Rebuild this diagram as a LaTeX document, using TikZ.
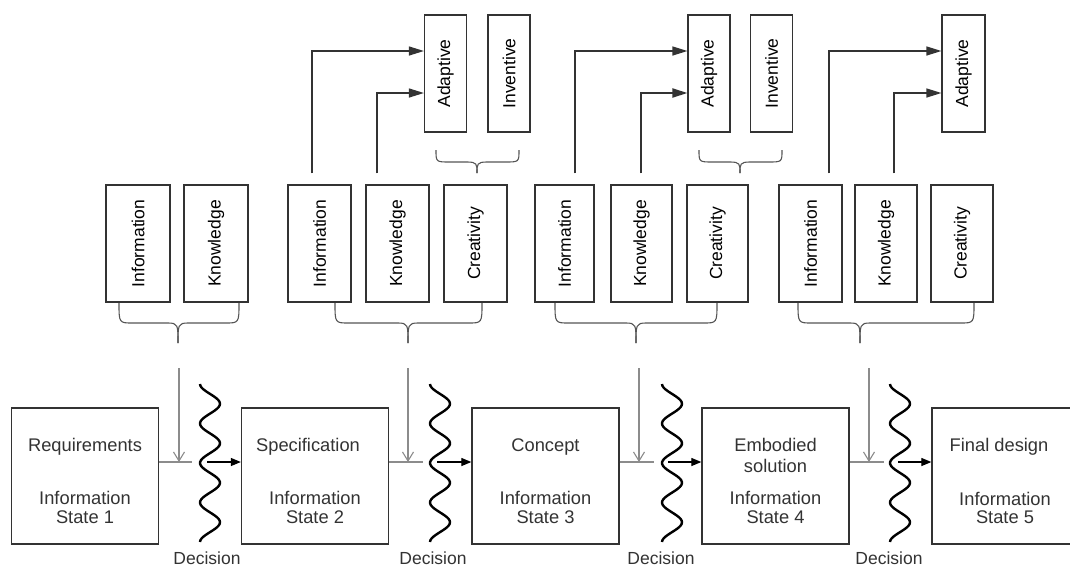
\documentclass[tikz,border=0pt]{standalone}
\usepackage{fontspec}
\usepackage{graphicx}
\setmainfont{Liberation Sans}
\usetikzlibrary{arrows.meta}
\definecolor{boxc}{HTML}{333333}
\definecolor{bracec}{HTML}{555555}
\definecolor{greyc}{HTML}{8C8C8C}
\newcommand{\mybrace}[6]{% x1 x2 xt ytop ymid ytip
  \draw[bracel] (#1,#4) .. controls (#1,#5) and (#1,#5) .. (#1+14,#5) -- (#3-10,#5)
    .. controls (#3,#5) and (#3,#5+2) .. (#3,#6);
  \draw[bracel] (#2,#4) .. controls (#2,#5) and (#2,#5) .. (#2-14,#5) -- (#3+10,#5)
    .. controls (#3,#5) and (#3,#5+2) .. (#3,#6);}
\newcommand{\mywave}[1]{%
  \draw[wavel] plot[smooth, samples=90, domain=0:158] ({#1-10*cos(\x*9.1139)},{384+\x});}
\begin{document}
\begin{tikzpicture}[x=1pt,y=-1pt,
  font=\fontsize{17.5}{19}\selectfont,
  statebox/.style={draw=boxc, line width=1.3pt, minimum width=147pt, minimum height=136pt, inner sep=0pt},
  resbox/.style={draw=boxc, line width=1.2pt, minimum width=63pt, minimum height=117pt, inner sep=0pt},
  topbox/.style={draw=boxc, line width=1.2pt, minimum width=42pt, minimum height=117pt, inner sep=0pt},
  lbl/.style={anchor=base, inner sep=0pt, text=boxc},
  slbl/.style={lbl, font=\fontsize{18.3}{19}\selectfont},
  bracel/.style={draw=bracec, line width=1.1pt},
  wavel/.style={draw=black, line width=2.4pt},
  greyline/.style={draw=greyc, line width=1.3pt},
  downarr/.style={draw=greyc, line width=1.1pt, -{Straight Barb[length=9pt,width=11pt]}},
  flowarr/.style={draw=black, line width=1.2pt, -{Triangle[length=10pt,width=8pt]}},
  toparr/.style={draw=boxc, line width=1.3pt, -{Triangle[length=15pt,width=9pt]}},
  ]
\useasboundingbox (0,0) rectangle (1070,566);
\fill[white] (0,0) rectangle (1070,566);

% ---------- state boxes ----------
\node[statebox] (s1) at (85,476) {};
\node[statebox] (s2) at (315,476) {};
\node[statebox] (s3) at (545.5,476) {};
\node[statebox] (s4) at (775.5,476) {};
\node[statebox, minimum width=146pt] (s5) at (1005,476) {};

\node[slbl] (s1a) at ([yshift=25pt]s1.center) {Requirements};
\node[slbl] (s1b) at ([yshift=-28pt]s1.center) {Information};
\node[slbl] (s1c) at ([yshift=-47pt]s1.center) {State 1};
\node[slbl] (s2a) at ([xshift=-7pt,yshift=25pt]s2.center) {Specification};
\node[slbl] (s2b) at ([yshift=-28pt]s2.center) {Information};
\node[slbl] (s2c) at ([yshift=-47pt]s2.center) {State 2};
\node[slbl] (s3a) at ([yshift=25pt]s3.center) {Concept};
\node[slbl] (s3b) at ([yshift=-28pt]s3.center) {Information};
\node[slbl] (s3c) at ([yshift=-47pt]s3.center) {State 3};
\node[slbl] (s4a) at ([yshift=25pt]s4.center) {Embodied};
\node[slbl] (s4d) at ([yshift=4pt]s4.center) {solution};
\node[slbl] (s4b) at ([yshift=-28pt]s4.center) {Information};
\node[slbl] (s4c) at ([yshift=-47pt]s4.center) {State 4};
\node[slbl] (s5a) at ([xshift=-6pt,yshift=25pt]s5.center) {Final design};
\node[slbl] (s5b) at ([yshift=-29pt]s5.center) {Information};
\node[slbl] (s5c) at ([yshift=-47pt]s5.center) {State 5};

% ---------- middle row ----------
\node[resbox, minimum width=64pt] (i1) at (138,243.5) {\rotatebox{90}{Information}};
\node[resbox, minimum width=64pt] (k1) at (216,243.5) {\rotatebox{90}{Knowledge}};
\node[resbox] (i2) at (319.5,243.5) {\rotatebox{90}{Information}};
\node[resbox] (k2) at (397.5,243.5) {\rotatebox{90}{Knowledge}};
\node[resbox] (c2) at (475.5,243.5) {\rotatebox{90}{Creativity}};
\node[resbox, minimum width=59pt] (i3) at (564.5,243.5) {\rotatebox{90}{Information}};
\node[resbox, minimum width=61pt] (k3) at (641.5,243.5) {\rotatebox{90}{Knowledge}};
\node[resbox, minimum width=61pt] (c3) at (717.5,243.5) {\rotatebox{90}{Creativity}};
\node[resbox] (i4) at (810.5,243.5) {\rotatebox{90}{Information}};
\node[resbox, minimum width=62pt] (k4) at (886,243.5) {\rotatebox{90}{Knowledge}};
\node[resbox, minimum width=62pt] (c4) at (962,243.5) {\rotatebox{90}{Creativity}};

% ---------- top row ----------
\node[topbox] (a2) at (445.5,73.5) {\rotatebox{90}{Adaptive}};
\node[topbox] (v2) at (509,73.5) {\rotatebox{90}{Inventive}};
\node[topbox] (a3) at (709,73.5) {\rotatebox{90}{Adaptive}};
\node[topbox] (v3) at (771.5,73.5) {\rotatebox{90}{Inventive}};
\node[topbox, minimum width=43pt] (a4) at (963.5,73.5) {\rotatebox{90}{Adaptive}};

% ---------- top arrows ----------
\draw[toparr] ([xshift=-7.5pt,yshift=11pt]i2.north) |- ([yshift=22.5pt]a2.west);
\draw[toparr] ([xshift=-20.5pt,yshift=11pt]k2.north) |- ([yshift=-19.5pt]a2.west);
\draw[toparr] ([xshift=10.5pt,yshift=11pt]i3.north) |- ([yshift=22.5pt]a3.west);
\draw[toparr, line width=2pt] ([xshift=-0.5pt,yshift=11pt]k3.north) |- ([yshift=-19.5pt]a3.west);
\draw[toparr] ([xshift=18.5pt,yshift=11pt]i4.north) |- ([yshift=22.5pt]a4.west);
\draw[toparr] ([xshift=8pt,yshift=11pt]k4.north) |- ([yshift=-19.5pt]a4.west);

% ---------- braces ----------
\mybrace{436}{519}{477}{150}{162}{173}
\mybrace{699}{782}{740}{150}{162}{173}
\mybrace{119}{239}{178}{303}{323}{343}
\mybrace{335}{482}{408}{303}{323}{343}
\mybrace{555}{717}{636}{303}{323}{343}
\mybrace{798}{974}{860}{303}{323}{343}

% ---------- junction coordinates ----------
\coordinate (t1) at (179,368); \coordinate (j1) at (179,462);
\coordinate (t2) at (408,368); \coordinate (j2) at (408,462);
\coordinate (t3) at (639,368); \coordinate (j3) at (639,462);
\coordinate (t4) at (869,368); \coordinate (j4) at (869,462);
\coordinate (w1) at (207,462);
\coordinate (w2) at (437,462);
\coordinate (w3) at (668,462);
\coordinate (w4) at (898,462);

% grey input lines
\draw[greyline] ([yshift=14pt]s1.east) -- ++(33,0);
\draw[greyline] ([yshift=14pt]s2.east) -- ++(34,0);
\draw[greyline] ([yshift=14pt]s3.east) -- ++(34,0);
\draw[greyline] ([yshift=14pt]s4.east) -- ++(34,0);
\draw[downarr] (t1) -- (j1);
\draw[downarr] (t2) -- (j2);
\draw[downarr] (t3) -- (j3);
\draw[downarr] (t4) -- (j4);

% decision waves
\mywave{210}
\mywave{440}
\mywave{672}
\mywave{900}

% flow arrows
\draw[flowarr] (w1) -- (w1 -| s2.west);
\draw[flowarr] (w2) -- (w2 -| s3.west);
\draw[flowarr] (w3) -- (w3 -| s4.west);
\draw[flowarr] (w4) -- (w4 -| s5.west);

% decision labels
\node[lbl] (d1) at (207,564) {Decision};
\node[lbl] (d2) at (433,564) {Decision};
\node[lbl] (d3) at (661,564) {Decision};
\node[lbl] (d4) at (889,564) {Decision};
\end{tikzpicture}
\end{document}
